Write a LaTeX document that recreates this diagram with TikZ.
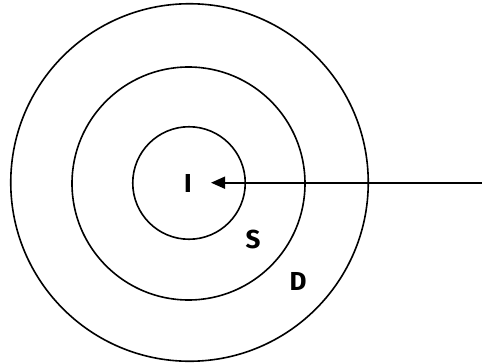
\documentclass[tikz,border=0pt]{standalone}
\usepackage{fontspec}
\setmainfont{Fira Sans}
\usetikzlibrary{arrows.meta}
\begin{document}
\begin{tikzpicture}[x=1pt,y=-1pt,
  ring/.style={draw=black,line width=1.6pt,circle,inner sep=0pt},
  lbl/.style={font=\fontsize{26}{30}\selectfont\bfseries,inner sep=0pt}]
\useasboundingbox (0,0) rectangle (482,364);
\node[ring,minimum size=357.5pt] (outer) at (189.5,182.5) {};
\node[ring,minimum size=233pt] (middle) at (188.5,183.5) {};
\node[ring,minimum size=112.5pt] (inner) at (189,183) {};
\node[lbl] (I) at (188,183) {I};
\node[lbl] (S) at (253,239) {S};
\node[lbl] (D) at (298,281) {D};
\coordinate (start) at (482,182.7);
\coordinate (tip) at (211,182.7);
\draw[line width=1.6pt,-{Triangle[length=14pt,width=12pt]}] (start) -- (tip);
\end{tikzpicture}
\end{document}
